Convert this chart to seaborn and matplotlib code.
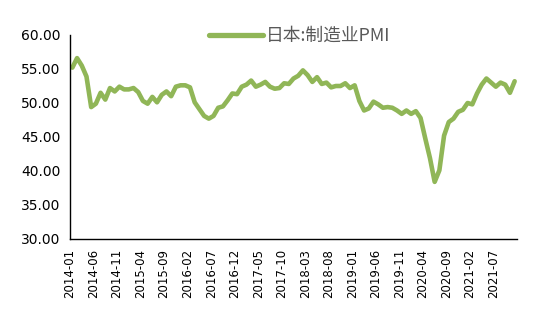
import matplotlib
matplotlib.use("Agg")
import matplotlib.pyplot as plt
import matplotlib.transforms as mtransforms
import seaborn as sns
import pandas as pd
import numpy as np

months = pd.date_range("2014-01-01", periods=95, freq="MS").strftime("%Y-%m").tolist()
pmi = [55.2,
       56.6, 55.5, 53.9, 49.4, 49.9, 51.5, 50.5, 52.2, 51.7, 52.4, 52.0, 52.0,
       52.2, 51.6, 50.3, 49.9, 50.9, 50.1, 51.2, 51.7, 51.0, 52.4, 52.6, 52.6,
       52.3, 50.1, 49.1, 48.1, 47.7, 48.1, 49.3, 49.5, 50.4, 51.4, 51.3, 52.4,
       52.7, 53.3, 52.4, 52.7, 53.1, 52.4, 52.1, 52.2, 52.9, 52.8, 53.6, 54.0,
       54.8, 54.1, 53.1, 53.8, 52.8, 53.0, 52.3, 52.5, 52.5, 52.9, 52.2, 52.6,
       50.3, 48.9, 49.2, 50.2, 49.8, 49.3, 49.4, 49.3, 48.9, 48.4, 48.9, 48.4,
       48.8, 47.8, 44.8, 41.9, 38.4, 40.1, 45.2, 47.2, 47.7, 48.7, 49.0, 50.0,
       49.8, 51.4, 52.7, 53.6, 53.0, 52.4, 53.0, 52.7, 51.5, 53.2]
series_name = "日本:制造业PMI"
y_ticks = [30, 35, 40, 45, 50, 55, 60]

df = pd.DataFrame({"idx": np.arange(len(pmi)), "value": pmi, "series": series_name})

sns.set_theme(style="white")
plt.rcParams["font.family"] = ["DejaVu Sans", "Noto Sans CJK SC"]

fig = plt.figure(figsize=(5.5, 3.24), dpi=100)
ax = fig.add_axes([70/550, 1-239/324, (517-70)/550, (239-35)/324])

sns.lineplot(data=df, x="idx", y="value", hue="series", palette=["#90B657"],
             linewidth=3.3, ax=ax, legend=True)

ax.set_xlim(-0.5, len(pmi) - 0.5)
ax.set_ylim(30, 60)
ax.set_yticks(y_ticks)
ax.set_yticklabels([f"{v:.2f}" for v in y_ticks], fontsize=10, color="black")

starts = list(range(0, len(pmi) - 1, 5))
bounds = [s - 0.5 for s in starts] + [len(pmi) - 0.5]
labels = [months[s] for s in starts] + [""]
ax.set_xticks(bounds)
ax.set_xticklabels(labels, rotation=90, fontsize=8.5, color="black", ha="center", va="top")
off = mtransforms.ScaledTranslation(8/100, 0, fig.dpi_scale_trans)
for lab in ax.get_xticklabels():
    lab.set_transform(lab.get_transform() + off)

ax.set_xlabel("")
ax.set_ylabel("")
for s in ["top", "right"]:
    ax.spines[s].set_visible(False)
for s in ["left", "bottom"]:
    ax.spines[s].set_color("black")
    ax.spines[s].set_linewidth(1.0)
ax.tick_params(axis="both", direction="out", length=4, width=1, color="black", pad=3)

handles, labs = ax.get_legend_handles_labels()
leg = ax.legend(handles, labs, loc="center", bbox_to_anchor=(300/550, 1-36/324),
                bbox_transform=fig.transFigure, frameon=False, handlelength=3.0,
                handletextpad=0.2, prop={"family": ["Noto Sans CJK SC"], "size": 12.8})
for t in leg.get_texts():
    t.set_color("#595959")
for l in leg.get_lines():
    l.set_linewidth(3.8)

fig.savefig("out.png", dpi=100)
